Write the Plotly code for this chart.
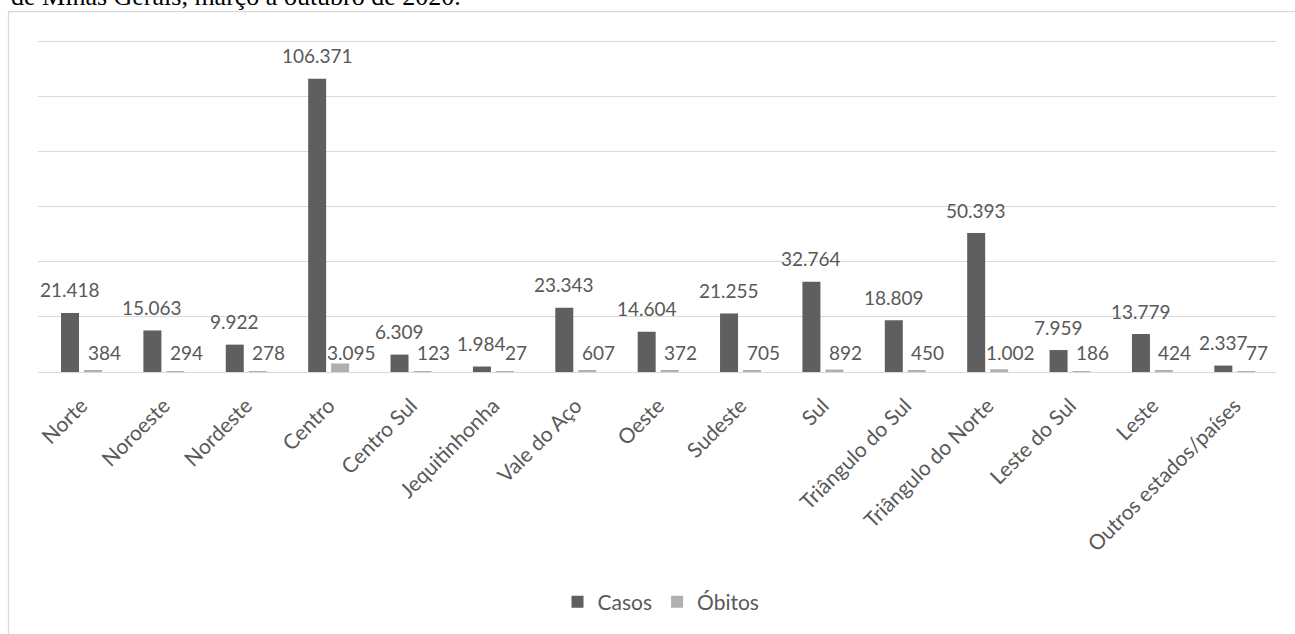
import plotly.graph_objects as go

regions = ["Norte", "Noroeste", "Nordeste", "Centro", "Centro Sul", "Jequitinhonha",
           "Vale do Aço", "Oeste", "Sudeste", "Sul", "Triângulo do Sul",
           "Triângulo do Norte", "Leste do Sul", "Leste", "Outros estados/países"]
casos = [21418, 15063, 9922, 106371, 6309, 1984, 23343, 14604, 21255, 32764,
         18809, 50393, 7959, 13779, 2337]
obitos = [384, 294, 278, 3095, 123, 27, 607, 372, 705, 892, 450, 1002, 186, 424, 77]
caption = "de Minas Gerais, março a outubro de 2020."


def fmt(v):
    return f"{v:,}".replace(",", ".")


FONT = "Lato, 'Open Sans', sans-serif"
TXT = "#595959"
W, H = 1295, 634
ML, MR, MT, MB = 38, 19, 40, 262
PW, PH = W - ML - MR, H - MT - MB

fig = go.Figure()
fig.add_trace(go.Bar(name="Casos", x=regions, y=casos, marker_color="#5f5f5f",
                     marker_line_width=0))
fig.add_trace(go.Bar(name="Óbitos", x=regions, y=obitos, marker_color="#b0b0b0",
                     marker_line_width=0))

ann = []
for r, c, o in zip(regions, casos, obitos):
    ann.append(dict(x=r, y=c, xref="x", yref="y", text=fmt(c), showarrow=False,
                    xshift=-11.5, yshift=23, yanchor="middle",
                    font=dict(family=FONT, size=19, color=TXT)))
    ann.append(dict(x=r, y=0, xref="x", yref="y", text=fmt(o), showarrow=False,
                    xshift=22.5, yshift=20, yanchor="middle",
                    font=dict(family=FONT, size=19, color=TXT)))

ann.append(dict(x=(9 - ML) / PW, y=(H - MB - 13) / PH, xref="paper", yref="paper",
                text=caption, showarrow=False, xanchor="left", yanchor="bottom",
                font=dict(family="Liberation Serif", size=26, color="black")))

fig.update_layout(
    width=W, height=H,
    margin=dict(l=ML, r=MR, t=MT, b=MB),
    paper_bgcolor="white", plot_bgcolor="white",
    barmode="group", bargap=0.442, bargroupgap=0.217,
    font=dict(family=FONT, size=19, color=TXT),
    showlegend=True,
    legend=dict(orientation="h", x=(661 - ML) / PW, xanchor="center",
                y=(H - MB - 602) / PH, yanchor="middle",
                font=dict(family=FONT, size=21, color=TXT),
                itemwidth=30),
    annotations=ann,
    shapes=[dict(type="rect", xref="paper", yref="paper",
                 x0=(8.5 - ML) / PW, x1=1.2, y0=-1.5, y1=(H - MB - 11.7) / PH,
                 line=dict(color="#d9d9d9", width=1.3), fillcolor="rgba(0,0,0,0)",
                 layer="below")],
)
fig.update_xaxes(tickangle=-45, showline=True, linecolor="#d9d9d9", linewidth=1.3,
                 ticks="", ticklabelstandoff=12,
                 tickfont=dict(family=FONT, size=21, color=TXT),
                 showgrid=False)
fig.update_yaxes(range=[0, 120400], tickvals=[20000, 40000, 60000, 80000, 100000, 120000],
                 showticklabels=False,
                 gridcolor="#d9d9d9", gridwidth=1.3, zeroline=False, showline=False)

fig.write_html("out.html")
